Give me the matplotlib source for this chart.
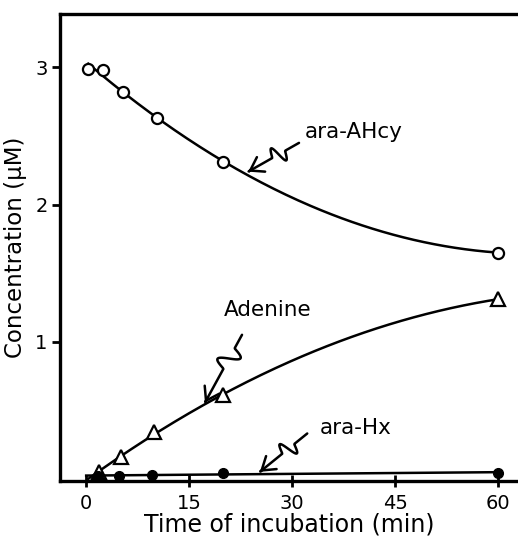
import numpy as np
import matplotlib
matplotlib.use("Agg")
import matplotlib.pyplot as plt
from matplotlib.patches import FancyArrowPatch
from matplotlib.path import Path

plt.rcParams['font.family'] = ['DejaVu Sans']

# incubation time (min) and concentration (uM)
t_ahcy = [0.3, 2.5, 5.4, 10.3, 20.0, 60.0]
c_ahcy = [2.99, 2.98, 2.82, 2.63, 2.31, 1.65]

t_ade = [1.8, 5.1, 9.9, 20.0, 60.0]
c_ade = [0.05, 0.16, 0.34, 0.61, 1.31]

t_hx = [1.7, 4.8, 9.6, 20.0, 60.0]
c_hx = [0.02, 0.02, 0.03, 0.04, 0.045]

xticks = [0, 15, 30, 45, 60]
yticks = [1, 2, 3]

fig = plt.figure(figsize=(5.18, 5.39), dpi=100)
ax = fig.add_axes([0.116, 0.108, 0.884, 0.866])
ax.set_xlim(-3.8, 62.9)
ax.set_ylim(-0.015, 3.39)

lw = 1.8


def smooth(t, c, deg, t0):
    coef = np.polyfit(t, c, deg)
    tt = np.linspace(t0, max(t), 200)
    return tt, np.polyval(coef, tt)


tt, cc = smooth(t_ahcy, c_ahcy, 2, t_ahcy[0])
ax.plot(tt, cc, color='black', lw=lw, zorder=2)
ax.plot(t_ahcy, c_ahcy, 'o', ms=8, mfc='white', mec='black', mew=1.6, zorder=3)

tt, cc = smooth(t_ade, c_ade, 2, 0.3)
ax.plot(tt, cc, color='black', lw=lw, zorder=2)
ax.plot(t_ade, c_ade, '^', ms=10, mfc='white', mec='black', mew=1.6, zorder=3)

tt, cc = smooth(t_hx, c_hx, 1, 0.0)
ax.plot(tt, cc, color='black', lw=lw, zorder=2)
ax.plot(t_hx, c_hx, 'o', ms=7, color='black', zorder=3)


def squiggle_arrow(start, end, amp=9, centre=0.4, width=0.25):
    # straight arrow with a zigzag kink part way along, built in pixels
    p0 = ax.transData.transform(start)
    p1 = ax.transData.transform(end)
    d = p1 - p0
    n = np.array([-d[1], d[0]]) / np.hypot(*d)
    s = np.linspace(0, 1, 120)
    u = np.clip((s - (centre - width / 2)) / width, 0, 1)
    off = amp * np.sin(2 * np.pi * u)
    pts = p0 + np.outer(s, d) + np.outer(off, n)
    verts = ax.transData.inverted().transform(pts)
    arr = FancyArrowPatch(path=Path(verts), arrowstyle='->,head_length=0.45,head_width=0.3',
                          mutation_scale=20, lw=lw, color='black', zorder=4)
    ax.add_patch(arr)


fs = 14
afs = 15.5
ax.text(31.8, 2.53, 'ara-AHcy', fontsize=afs, va='center', ha='left')
squiggle_arrow((31.0, 2.45), (23.6, 2.24))

ax.text(20.0, 1.23, 'Adenine', fontsize=afs, va='center', ha='left')
squiggle_arrow((22.7, 1.05), (17.3, 0.555), amp=10, centre=0.35, width=0.3)

ax.text(34.0, 0.37, 'ara-Hx', fontsize=afs, va='center', ha='left')
squiggle_arrow((32.2, 0.33), (25.3, 0.05))

ax.set_xticks(xticks)
ax.set_yticks(yticks)
ax.tick_params(axis='x', direction='inout', length=9, width=2, labelsize=fs, pad=5)
ax.tick_params(axis='y', direction='out', length=6, width=2, labelsize=fs, pad=3)

for side in ['left', 'top', 'bottom']:
    ax.spines[side].set_linewidth(2.4)
ax.spines['right'].set_visible(False)

ax.set_xlabel('Time of incubation (min)', fontsize=17, labelpad=0)
ax.set_ylabel('Concentration (\u03bcM)', fontsize=16.5, labelpad=6)

fig.savefig('out.png', dpi=100)
